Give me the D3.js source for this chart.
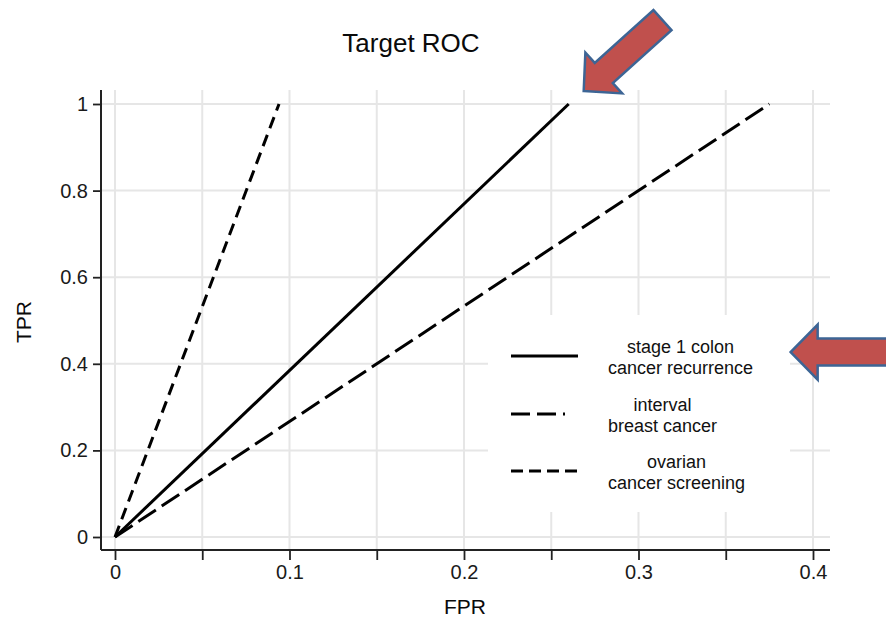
<!DOCTYPE html>
<html>
<head>
<meta charset="utf-8">
<script src="https://cdn.jsdelivr.net/npm/d3@7/dist/d3.min.js"></script>
<style>
	body { margin: 0; background: #ffffff; }
	svg { display: block; font-family: "Liberation Sans", Arial, sans-serif; }
</style>
</head>
<body>
<div id="chart"></div>
<script>
"use strict";

// =============== DATA ===============
var seriesNames = ["stage 1 colon|cancer recurrence", "interval|breast cancer", "ovarian|cancer screening"];
var seriesFPR = [[0, 0.26], [0, 0.375], [0, 0.094]];
var seriesTPR = [[0, 1], [0, 1], [0, 1]];
var seriesDash = ["none", "21,7", "12,7"];
var legendDash = ["none", "19,7,19,7,2,20", "12,6"];
var xTicks = [0, 0.05, 0.1, 0.15, 0.2, 0.25, 0.3, 0.35, 0.4];
var xLabels = ["0", "", "0.1", "", "0.2", "", "0.3", "", "0.4"];
var yTicks = [0, 0.2, 0.4, 0.6, 0.8, 1];
var yLabels = ["0", "0.2", "0.4", "0.6", "0.8", "1"];
// annotation arrows, tip given in data coords, angle in degrees (direction arrow points)
var arrowTipX = [0.2686, 0.3872];
var arrowTipY = [1.03, 0.427];
var arrowAngle = [138, 180];
var arrowLength = [106, 110];

// =============== LAYOUT ===============
var width = 886, height = 620;
var plotLeft = 101, plotRight = 830, plotTop = 90, plotBottom = 550;

var svg = d3.select("#chart").append("svg")
	.attr("width", width)
	.attr("height", height);

var x = d3.scaleLinear().domain([0, 0.4]).range([115, 813]);
var y = d3.scaleLinear().domain([0, 1]).range([537, 104]);

// grid lines
svg.append("g").selectAll("line.vgrid")
	.data(xTicks)
	.enter().append("line")
	.attr("x1", function(d){ return x(d); })
	.attr("x2", function(d){ return x(d); })
	.attr("y1", plotTop)
	.attr("y2", plotBottom)
	.style("stroke", "#e6e6e6")
	.style("stroke-width", 2);

svg.append("g").selectAll("line.hgrid")
	.data(yTicks)
	.enter().append("line")
	.attr("x1", plotLeft)
	.attr("x2", plotRight)
	.attr("y1", function(d){ return y(d); })
	.attr("y2", function(d){ return y(d); })
	.style("stroke", "#e6e6e6")
	.style("stroke-width", 2);

// ROC lines
var line = d3.line()
	.x(function(d){ return x(d[0]); })
	.y(function(d){ return y(d[1]); });

svg.append("g").selectAll("path.roc")
	.data(seriesFPR)
	.enter().append("path")
	.attr("d", function(d, i){
		return line(d3.zip(d, seriesTPR[i]));
	})
	.style("fill", "none")
	.style("stroke", "#000000")
	.style("stroke-width", 3)
	.style("stroke-dasharray", function(d, i){ return seriesDash[i]; });

// axes
var xAxis = d3.axisBottom(x)
	.tickValues(xTicks)
	.tickSize(10)
	.tickPadding(5)
	.tickFormat(function(d, i){ return xLabels[i]; });

var yAxis = d3.axisLeft(y)
	.tickValues(yTicks)
	.tickSize(8)
	.tickPadding(5)
	.tickFormat(function(d, i){ return yLabels[i]; });

var gx = svg.append("g")
	.attr("transform", "translate(0," + plotBottom + ")")
	.call(xAxis);
var gy = svg.append("g")
	.attr("transform", "translate(" + plotLeft + ",0)")
	.call(yAxis);

[gx, gy].forEach(function(g){
	g.select(".domain").remove();
	g.selectAll(".tick line")
		.style("stroke", "#222222")
		.style("stroke-width", 1.8);
	g.selectAll(".tick text")
		.style("font-family", "'Liberation Sans', Arial, sans-serif")
		.style("font-size", "20px")
		.style("fill", "#1a1a1a");
});

svg.append("line")
	.attr("x1", plotLeft).attr("x2", plotRight)
	.attr("y1", plotBottom).attr("y2", plotBottom)
	.style("stroke", "#222222").style("stroke-width", 2);
svg.append("line")
	.attr("x1", plotLeft).attr("x2", plotLeft)
	.attr("y1", plotTop).attr("y2", plotBottom)
	.style("stroke", "#222222").style("stroke-width", 2);

// titles
svg.append("text")
	.attr("x", 411).attr("y", 52)
	.attr("text-anchor", "middle")
	.style("font-size", "26px")
	.style("fill", "#0a0a0a")
	.text("Target ROC");

svg.append("text")
	.attr("x", 465).attr("y", 614)
	.attr("text-anchor", "middle")
	.style("font-size", "21px")
	.style("fill", "#0a0a0a")
	.text("FPR");

svg.append("text")
	.attr("transform", "translate(31,322) rotate(-90)")
	.attr("text-anchor", "middle")
	.style("font-size", "21px")
	.style("fill", "#0a0a0a")
	.text("TPR");

// legend
var legend = svg.append("g");
legend.append("rect")
	.attr("x", 488).attr("y", 315)
	.attr("width", 302).attr("height", 197)
	.style("fill", "#ffffff");

var legendRowY = [356, 414, 471];
seriesNames.forEach(function(name, i){
	var row = legend.append("g")
		.attr("transform", "translate(0," + legendRowY[i] + ")");
	row.append("line")
		.attr("x1", 511).attr("x2", 578)
		.attr("y1", 0).attr("y2", 0)
		.style("stroke", "#000000")
		.style("stroke-width", 3)
		.style("stroke-dasharray", legendDash[i]);

	var parts = name.split("|");
	var txt = row.append("text")
		.style("font-size", "18px")
		.style("fill", "#111111")
		.attr("text-anchor", "middle");
	var spans = txt.selectAll("tspan")
		.data(parts)
		.enter().append("tspan")
		.attr("y", function(d, j){ return j == 0 ? -3 : 18; })
		.text(function(d){ return d; });
	// centre both lines on the widest one, block left edge at 608
	var maxW = 0;
	spans.each(function(){ maxW = Math.max(maxW, this.getComputedTextLength()); });
	spans.attr("x", 608 + maxW / 2);
});

// annotation arrows (block arrows)
function arrowPath(len){
	// tip at (0,0), body going to -x, rotated afterwards
	var headL = 27, headW = 27.5, shaftW = 13.5;
	return "M0,0" +
		"L" + (-headL) + "," + (-headW) +
		"L" + (-headL) + "," + (-shaftW) +
		"L" + (-len) + "," + (-shaftW) +
		"L" + (-len) + "," + shaftW +
		"L" + (-headL) + "," + shaftW +
		"L" + (-headL) + "," + headW + "Z";
}

svg.append("g").selectAll("path.arrow")
	.data(arrowTipX)
	.enter().append("path")
	.attr("d", function(d, i){ return arrowPath(arrowLength[i]); })
	.attr("transform", function(d, i){
		return "translate(" + x(d) + "," + y(arrowTipY[i]) + ") rotate(" + arrowAngle[i] + ")";
	})
	.style("fill", "#c0504d")
	.style("stroke", "#3d6595")
	.style("stroke-width", 2.5)
	.style("stroke-linejoin", "miter");
</script>
</body>
</html>
